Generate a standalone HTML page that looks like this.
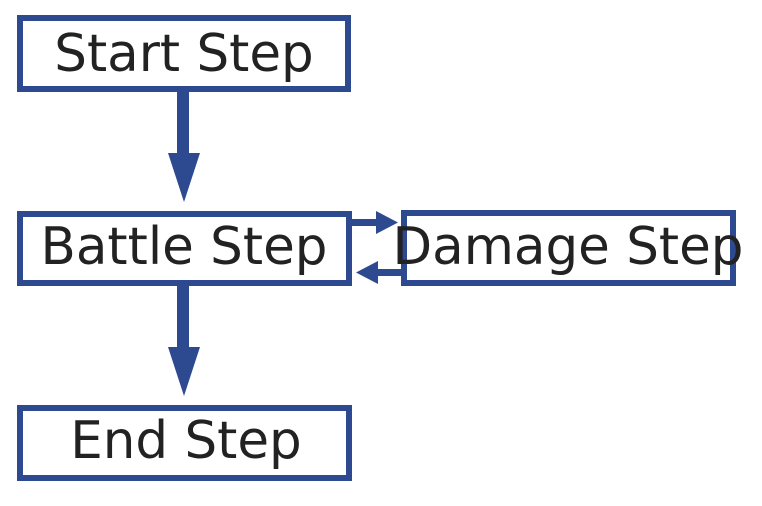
<!DOCTYPE html>
<html><head><style>
html,body{margin:0;padding:0;background:#fff;width:762px;height:506px;overflow:hidden}
svg{display:block}
text{font-family:"DejaVu Sans","Liberation Sans",sans-serif;font-size:51.5px;fill:#222;text-anchor:middle;dominant-baseline:central}
</style></head><body>
<svg width="762" height="506" viewBox="0 0 762 506">
<g fill="none" stroke="#2d4a90" stroke-width="6">
<rect x="20" y="18" width="328" height="71"/>
<rect x="20" y="214" width="329" height="69"/>
<rect x="404" y="213" width="329" height="70"/>
<rect x="20" y="408" width="329" height="70"/>
</g>
<g fill="#2d4a90" stroke="none">
<rect x="177" y="89" width="12" height="66"/>
<polygon points="168,153 200,153 184,202"/>
<rect x="177" y="283" width="12" height="66"/>
<polygon points="168,347 200,347 184,396"/>
<rect x="352" y="219" width="28" height="7"/>
<polygon points="376,211 398,222.5 376,234"/>
<rect x="372" y="269" width="30" height="7"/>
<polygon points="378,261 356,272.5 378,284"/>
</g>
<text x="184" y="54">Start Step</text>
<text x="184" y="247">Battle Step</text>
<text x="568" y="247">Damage Step</text>
<text x="186" y="441">End Step</text>
</svg>
</body></html>
